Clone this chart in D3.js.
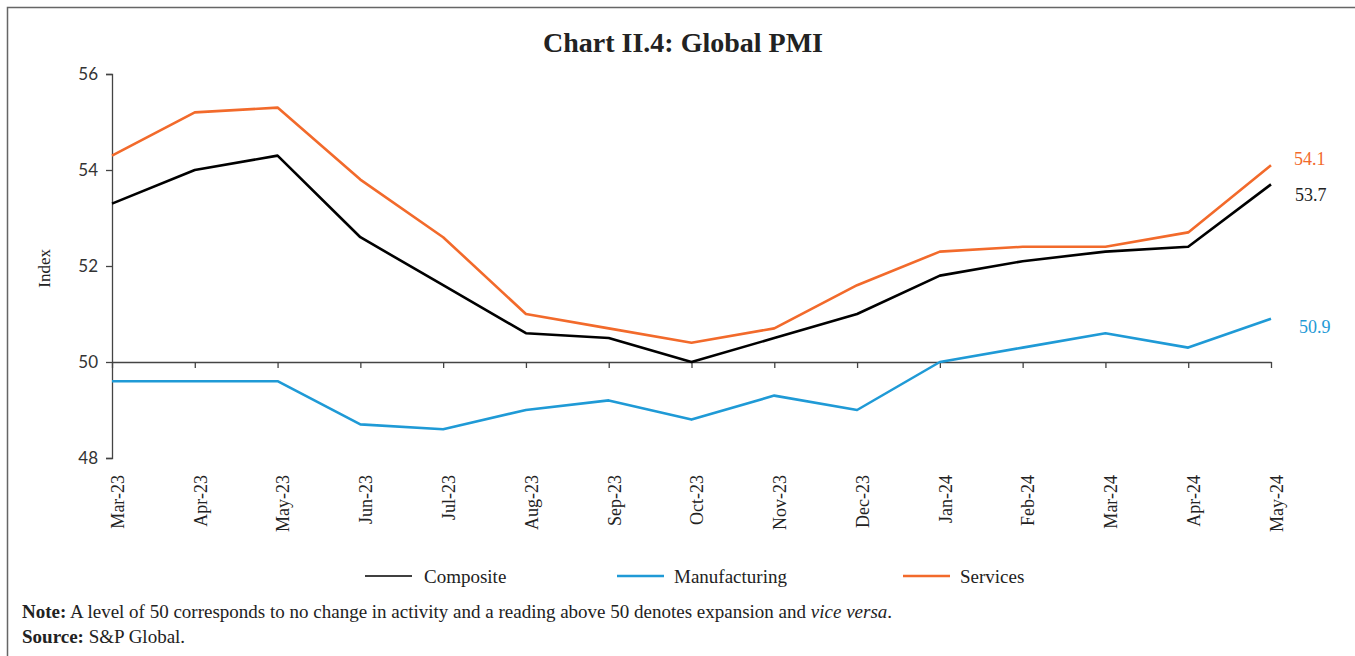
<!DOCTYPE html>
<html>
<head>
<meta charset="utf-8">
<script src="https://cdn.jsdelivr.net/npm/d3@7"></script>
<style>
  body { margin: 0; background: #fff; }
  .serif { font-family: "Liberation Serif", "DejaVu Serif", serif; }
</style>
</head>
<body>
<div class="chart"></div>
<script>
var months = ["Mar-23", "Apr-23", "May-23", "Jun-23", "Jul-23", "Aug-23", "Sep-23", "Oct-23",
              "Nov-23", "Dec-23", "Jan-24", "Feb-24", "Mar-24", "Apr-24", "May-24"];
var composite     = [53.3, 54.0, 54.3, 52.6, 51.6, 50.6, 50.5, 50.0, 50.5, 51.0, 51.8, 52.1, 52.3, 52.4, 53.7];
var manufacturing = [49.6, 49.6, 49.6, 48.7, 48.6, 49.0, 49.2, 48.8, 49.3, 49.0, 50.0, 50.3, 50.6, 50.3, 50.9];
var services      = [54.3, 55.2, 55.3, 53.8, 52.6, 51.0, 50.7, 50.4, 50.7, 51.6, 52.3, 52.4, 52.4, 52.7, 54.1];
var yTicks = [48, 50, 52, 54, 56];

var width = 1355, height = 656;

var series = [
    {name: "Composite", values: composite, color: "#000000", labelColor: "#222222", lx: 1295, dy: 10},
    {name: "Manufacturing", values: manufacturing, color: "#1f9ad6", labelColor: "#1f9ad6", lx: 1299, dy: 8},
    {name: "Services", values: services, color: "#f26a2b", labelColor: "#f26a2b", lx: 1294, dy: -7}
];

var svg = d3.select(".chart").append("svg")
    .attr("width", width)
    .attr("height", height);

// frame
svg.append("rect")
    .attr("x", 7.5).attr("y", 7.5)
    .attr("width", width + 20).attr("height", height + 20)
    .attr("fill", "none")
    .attr("stroke", "#666")
    .attr("stroke-width", 1.5);

svg.append("text")
    .attr("class", "serif")
    .attr("x", 683).attr("y", 52)
    .attr("text-anchor", "middle")
    .attr("font-size", 28)
    .attr("font-weight", "bold")
    .attr("fill", "#222")
    .text("Chart II.4: Global PMI");

const xScale = d3.scalePoint()
    .domain(months)
    .range([112, 1271]);

const yScale = d3.scaleLinear()
    .domain([48, 56])
    .range([458, 74]);

// y axis
const yAxisGroup = svg.append("g")
    .attr("transform", "translate(112,0)")
    .call(d3.axisLeft(yScale).tickValues(yTicks).tickSize(6).tickPadding(8));
yAxisGroup.select(".domain").attr("stroke", "#444").attr("stroke-width", 1.3);
yAxisGroup.selectAll(".tick line").attr("stroke", "#444").attr("stroke-width", 1.3);
yAxisGroup.selectAll(".tick text")
    .attr("font-family", "Lato, 'Open Sans', sans-serif")
    .attr("font-size", 17)
    .attr("fill", "#333");

svg.append("text")
    .attr("class", "serif")
    .attr("transform", "translate(50," + yScale(51.95) + ") rotate(-90)")
    .attr("text-anchor", "middle")
    .attr("font-size", 17)
    .attr("fill", "#222")
    .text("Index");

// x axis on the 50 line
const xAxisGroup = svg.append("g")
    .attr("transform", `translate(0, ${yScale(50)})`)
    .call(d3.axisBottom(xScale).tickSize(6).tickSizeOuter(0));
xAxisGroup.select(".domain").attr("stroke", "#444").attr("stroke-width", 1.3);
xAxisGroup.selectAll(".tick line").attr("stroke", "#444").attr("stroke-width", 1.3);
xAxisGroup.selectAll(".tick text")
    .attr("class", "serif")
    .attr("font-size", 18)
    .attr("fill", "#222")
    .attr("text-anchor", "end")
    .attr("y", 0)
    .attr("dy", "0.35em")
    .attr("transform", `translate(5, ${475 - yScale(50)}) rotate(-90)`);

// lines
const line = d3.line()
    .x((d, i) => xScale(months[i]))
    .y(d => yScale(d));

series.forEach(function(s) {
    svg.append("path")
        .datum(s.values)
        .attr("fill", "none")
        .attr("stroke", s.color)
        .attr("stroke-width", 2.6)
        .attr("stroke-linejoin", "round")
        .attr("d", line);

    var last = s.values[s.values.length - 1];
    svg.append("text")
        .attr("class", "serif")
        .attr("x", s.lx)
        .attr("y", yScale(last) + s.dy)
        .attr("dy", "0.35em")
        .attr("font-size", 18)
        .attr("fill", s.labelColor)
        .text(d3.format(".1f")(last));
});

// legend
var legendX = [365, 617, 903];
var legend = svg.append("g")
    .selectAll("g")
    .data(series)
    .enter().append("g")
    .attr("transform", (d, i) => `translate(${legendX[i]}, 576)`);
legend.append("line")
    .attr("x1", 0).attr("x2", 47)
    .attr("stroke", d => d.color)
    .attr("stroke-width", d => d.name == "Composite" ? 1.5 : 2.6);
legend.append("text")
    .attr("class", "serif")
    .attr("x", d => d.name == "Composite" ? 59 : 57)
    .attr("dy", "0.35em")
    .attr("font-size", 19)
    .attr("fill", "#222")
    .text(d => d.name);

// notes
var note = svg.append("text")
    .attr("class", "serif")
    .attr("x", 22).attr("y", 618)
    .attr("font-size", 19)
    .attr("fill", "#222");
note.append("tspan").attr("font-weight", "bold").text("Note:");
note.append("tspan").text(" A level of 50 corresponds to no change in activity and a reading above 50 denotes expansion and ");
note.append("tspan").attr("font-style", "italic").text("vice versa");
note.append("tspan").text(".");

var source = svg.append("text")
    .attr("class", "serif")
    .attr("x", 22).attr("y", 643)
    .attr("font-size", 19)
    .attr("fill", "#222");
source.append("tspan").attr("font-weight", "bold").text("Source:");
source.append("tspan").text(" S&P Global.");
</script>
</body>
</html>
